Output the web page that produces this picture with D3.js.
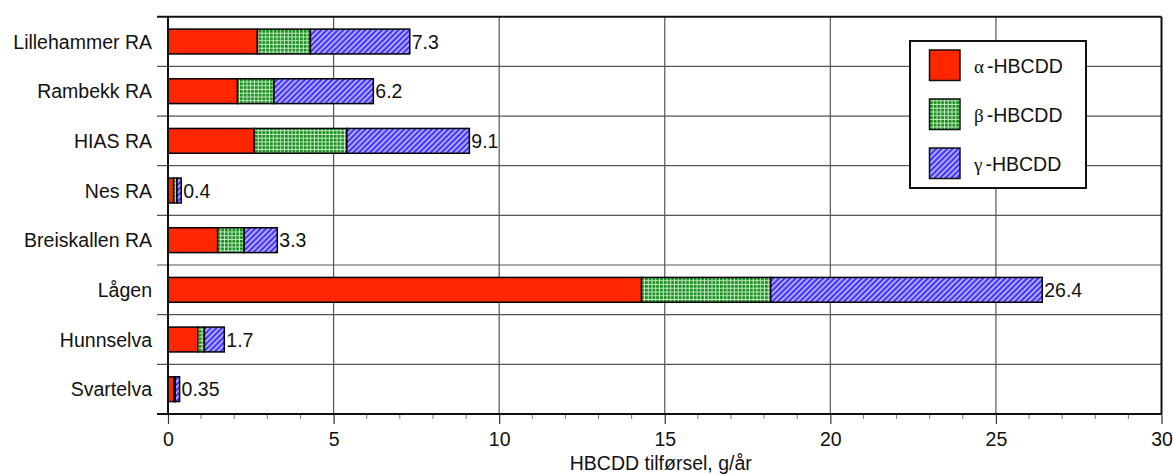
<!DOCTYPE html>
<html>
<head>
<meta charset="utf-8">
<script src="https://cdn.jsdelivr.net/npm/d3@7"></script>
<style>
  html, body { margin: 0; padding: 0; background: #fff; }
  svg { display: block; font-family: "Liberation Sans", Arial, Helvetica, sans-serif; }
</style>
</head>
<body>
<svg id="chart" width="1173" height="475"></svg>
<script>
// HBCDD load per source, g/year, split by isomer
const categories = ["Lillehammer RA", "Rambekk RA", "HIAS RA", "Nes RA", "Breiskallen RA", "Lågen", "Hunnselva", "Svartelva"];
const alphaHBCDD = [2.7, 2.1, 2.6, 0.17, 1.5, 14.3, 0.9, 0.18];
const betaHBCDD  = [1.6, 1.1, 2.8, 0.10, 0.8, 3.9, 0.2, 0.04];
const gammaHBCDD = [3.0, 3.0, 3.7, 0.13, 1.0, 8.2, 0.6, 0.13];
const totals     = [7.3, 6.2, 9.1, 0.4, 3.3, 26.4, 1.7, 0.35];
const seriesNames = ["α", "β", "γ"];
const xTicks = [0, 5, 10, 15, 20, 25, 30];
const xTitle = "HBCDD tilførsel, g/år";

const svg = d3.select("#chart");
const plotLeft = 168, plotRight = 1161.5, plotTop = 16.7, plotBottom = 414;

const x = d3.scaleLinear().domain([0, 30]).range([plotLeft, plotRight]);
const y = d3.scaleBand().domain(categories).range([plotTop, plotBottom]).paddingInner(0.5).paddingOuter(0.25);

// fill patterns
const defs = svg.append("defs");
const green = defs.append("pattern").attr("id", "pBeta").attr("patternUnits", "userSpaceOnUse")
  .attr("width", 3.75).attr("height", 3.75);
green.append("rect").attr("width", 3.75).attr("height", 3.75).attr("fill", "#c4e6c2");
green.append("rect").attr("width", 2.7).attr("height", 2.7).attr("fill", "#118d18");

const blue = defs.append("pattern").attr("id", "pGamma").attr("patternUnits", "userSpaceOnUse")
  .attr("width", 3.9).attr("height", 10).attr("patternTransform", "rotate(45)");
blue.append("rect").attr("width", 3.9).attr("height", 10).attr("fill", "#4636fa");
blue.append("rect").attr("width", 1.5).attr("height", 10).attr("fill", "#cdc8ff");

const fills = ["#ff2600", "url(#pBeta)", "url(#pGamma)"];

// grid
const grid = svg.append("g");
const step = y.step();
const boundaries = d3.range(1, categories.length).map(i => y(categories[i]) - y.paddingInner() * step / 2);
grid.selectAll("line.h").data(boundaries).join("line")
  .attr("x1", plotLeft - 11).attr("x2", plotRight)
  .attr("y1", d => d).attr("y2", d => d)
  .attr("stroke", "#555").attr("stroke-width", 1.2);
grid.selectAll("line.v").data(xTicks.slice(1, -1)).join("line")
  .attr("x1", d => x(d)).attr("x2", d => x(d))
  .attr("y1", plotTop).attr("y2", plotBottom)
  .attr("stroke", "#555").attr("stroke-width", 1.2);

// stacked bars
const rows = categories.map((c, i) => ({ cat: c, vals: [alphaHBCDD[i], betaHBCDD[i], gammaHBCDD[i]] }));
const barG = svg.append("g");
rows.forEach(r => {
  let acc = 0;
  r.vals.forEach((v, k) => {
    barG.append("rect")
      .attr("x", x(acc)).attr("y", y(r.cat))
      .attr("width", x(acc + v) - x(acc)).attr("height", y.bandwidth())
      .attr("fill", fills[k]).attr("stroke", "#000").attr("stroke-width", 1.5);
    acc += v;
  });
});

// value labels
svg.append("g").selectAll("text").data(categories).join("text")
  .attr("x", (d, i) => x(totals[i]) + 2)
  .attr("y", d => y(d) + y.bandwidth() / 2)
  .attr("dy", "0.36em")
  .attr("font-size", 19.5).attr("fill", "#111")
  .text((d, i) => String(totals[i]));

// category labels
svg.append("g").selectAll("text").data(categories).join("text")
  .attr("x", 152).attr("y", d => y(d) + y.bandwidth() / 2)
  .attr("dy", "0.36em").attr("text-anchor", "end")
  .attr("font-size", 19.5).attr("fill", "#111")
  .text(d => d);

// frame
svg.append("line").attr("x1", plotLeft - 11).attr("x2", plotRight).attr("y1", plotTop).attr("y2", plotTop)
  .attr("stroke", "#111").attr("stroke-width", 2);
svg.append("line").attr("x1", plotRight).attr("x2", plotRight).attr("y1", plotTop).attr("y2", plotBottom)
  .attr("stroke", "#111").attr("stroke-width", 2);
svg.append("line").attr("x1", plotLeft).attr("x2", plotLeft).attr("y1", plotTop).attr("y2", plotBottom)
  .attr("stroke", "#111").attr("stroke-width", 2);

// bottom axis
const axis = d3.axisBottom(x).tickValues(xTicks).tickSize(10).tickPadding(8).tickFormat(d3.format("d"));
const ax = svg.append("g").attr("transform", `translate(0,${plotBottom})`).call(axis);
ax.select(".domain").remove();
ax.selectAll(".tick line").attr("stroke", "#333").attr("stroke-width", 1.2);
ax.selectAll(".tick text").attr("font-size", 19.5).attr("fill", "#111")
  .attr("font-family", "Liberation Sans, Arial, sans-serif");
const minor = d3.range(0, 31).filter(v => v % 5 !== 0);
ax.selectAll("line.minor").data(minor).join("line").attr("class", "minor")
  .attr("x1", d => x(d)).attr("x2", d => x(d)).attr("y1", 0).attr("y2", 5)
  .attr("stroke", "#777").attr("stroke-width", 1);
svg.append("line").attr("x1", plotLeft - 11).attr("x2", plotRight).attr("y1", plotBottom).attr("y2", plotBottom)
  .attr("stroke", "#111").attr("stroke-width", 2);

// axis title
svg.append("text").attr("x", (plotLeft + plotRight) / 2 - 4).attr("y", 470)
  .attr("text-anchor", "middle").attr("font-size", 19.5).attr("fill", "#111")
  .text(xTitle);

// legend
const lg = svg.append("g");
lg.append("rect").attr("x", 910).attr("y", 41).attr("width", 176).attr("height", 147)
  .attr("fill", "#fff").attr("stroke", "#111").attr("stroke-width", 2);
seriesNames.forEach((s, k) => {
  const yy = 50 + k * 49;
  lg.append("rect").attr("x", 929.5).attr("y", yy).attr("width", 30.5).attr("height", 30.5)
    .attr("fill", fills[k]).attr("stroke", "#111").attr("stroke-width", 1.5);
  const t = lg.append("text").attr("x", 974).attr("y", yy + 15.5).attr("dy", "0.36em")
    .attr("font-size", 19.5).attr("fill", "#111");
  t.append("tspan").attr("font-family", "Liberation Serif, serif").attr("font-size", 19).text(s);
  t.append("tspan").attr("dx", 3).text("-HBCDD");
});
</script>
</body>
</html>
